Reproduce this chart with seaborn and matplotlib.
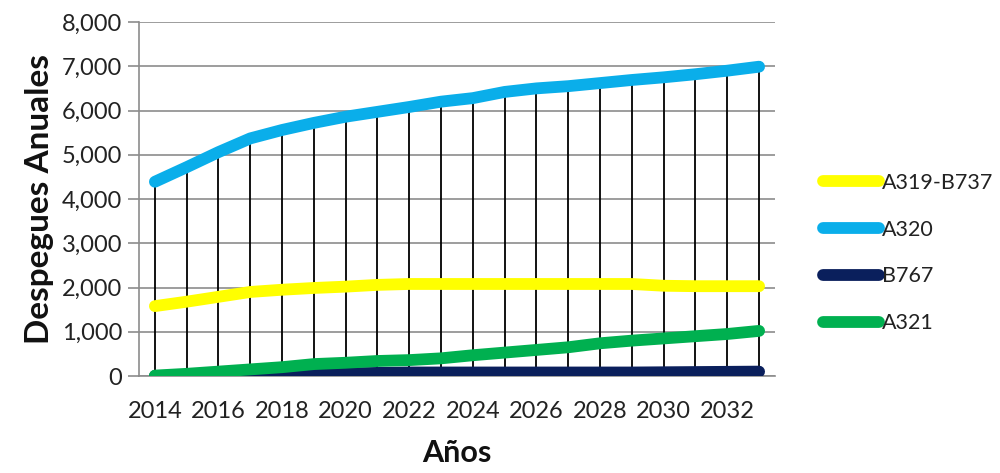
import matplotlib
matplotlib.use("Agg")
import matplotlib.pyplot as plt
import seaborn as sns
import pandas as pd
import numpy as np
from matplotlib.ticker import FuncFormatter, MultipleLocator
from matplotlib.lines import Line2D

years = list(range(2014, 2034))
a319_b737 = [1580, 1680, 1790, 1900, 1950, 1990, 2020, 2060, 2080, 2080,
             2080, 2080, 2080, 2080, 2080, 2080, 2040, 2030, 2030, 2030]
a320 = [4390, 4720, 5060, 5370, 5560, 5720, 5860, 5970, 6080, 6200,
        6280, 6420, 6500, 6550, 6620, 6690, 6750, 6820, 6900, 6990]
b767 = [0, 0, 0, 5, 20, 50, 60, 70, 80, 80,
        80, 80, 80, 80, 80, 80, 85, 90, 95, 100]
a321 = [10, 50, 100, 150, 200, 270, 300, 340, 360, 400,
        470, 530, 590, 650, 740, 800, 850, 900, 950, 1020]
series_names = ["A319-B737", "A320", "B767", "A321"]
colors = ["#FFFF00", "#0AAEEA", "#0A1F5C", "#00B050"]

df = pd.DataFrame({
    "Año": years * 4,
    "Despegues": a319_b737 + a320 + b767 + a321,
    "Serie": sum([[n] * len(years) for n in series_names], []),
})

sns.set_theme(style="white")
plt.rcParams["font.family"] = ["Lato", "DejaVu Sans"]

fig = plt.figure(figsize=(10, 4.73), dpi=100)
ax = fig.add_axes([0.139, 0.205, 0.636, 0.7485])

# drop lines from highest series down to the axis
top = np.max(np.array([a319_b737, a320, b767, a321]), axis=0)
ax.vlines(years, 0, top, color="black", lw=1.3, zorder=2)

sns.lineplot(data=df, x="Año", y="Despegues", hue="Serie", hue_order=series_names,
             palette=colors, lw=8.5, ax=ax, legend=False, zorder=3)
for ln in ax.get_lines():
    ln.set_solid_capstyle("round")
    ln.set_solid_joinstyle("round")

ax.set_xlim(2013.5, 2033.5)
ax.set_ylim(0, 8000)
ax.yaxis.set_major_locator(MultipleLocator(1000))
ax.yaxis.set_major_formatter(FuncFormatter(lambda v, p: f"{int(v):,}"))
ax.set_xticks(years[::2])
ax.grid(axis="y", color="#8C8C8C", lw=1.2)
ax.grid(axis="x", visible=False)
for s in ["top", "right"]:
    ax.spines[s].set_visible(False)
for s in ["left", "bottom"]:
    ax.spines[s].set_color("#8C8C8C")
    ax.spines[s].set_linewidth(1.2)
ax.tick_params(axis="y", which="major", length=8, width=1.2, color="#8C8C8C",
               labelsize=17, labelcolor="#222222", pad=4, left=True)
ax.tick_params(axis="x", length=0, labelsize=17, labelcolor="#222222", pad=18)
ax.set_xlabel("Años", fontsize=22, fontweight="bold", color="#111111", labelpad=12)
ax.set_ylabel("Despegues Anuales", fontsize=24, fontweight="bold", color="#111111", labelpad=6)

handles = [Line2D([0], [0], color=c, lw=8.5, solid_capstyle="round") for c in colors]
leg = fig.legend(handles, series_names, loc="upper left", bbox_to_anchor=(0.823, 0.635),
                 frameon=False, fontsize=15.5, handlelength=2.6, handletextpad=0.15,
                 labelspacing=1.25, borderaxespad=0, borderpad=0)
for t in leg.get_texts():
    t.set_color("#222222")

fig.savefig("out.png", dpi=100)
